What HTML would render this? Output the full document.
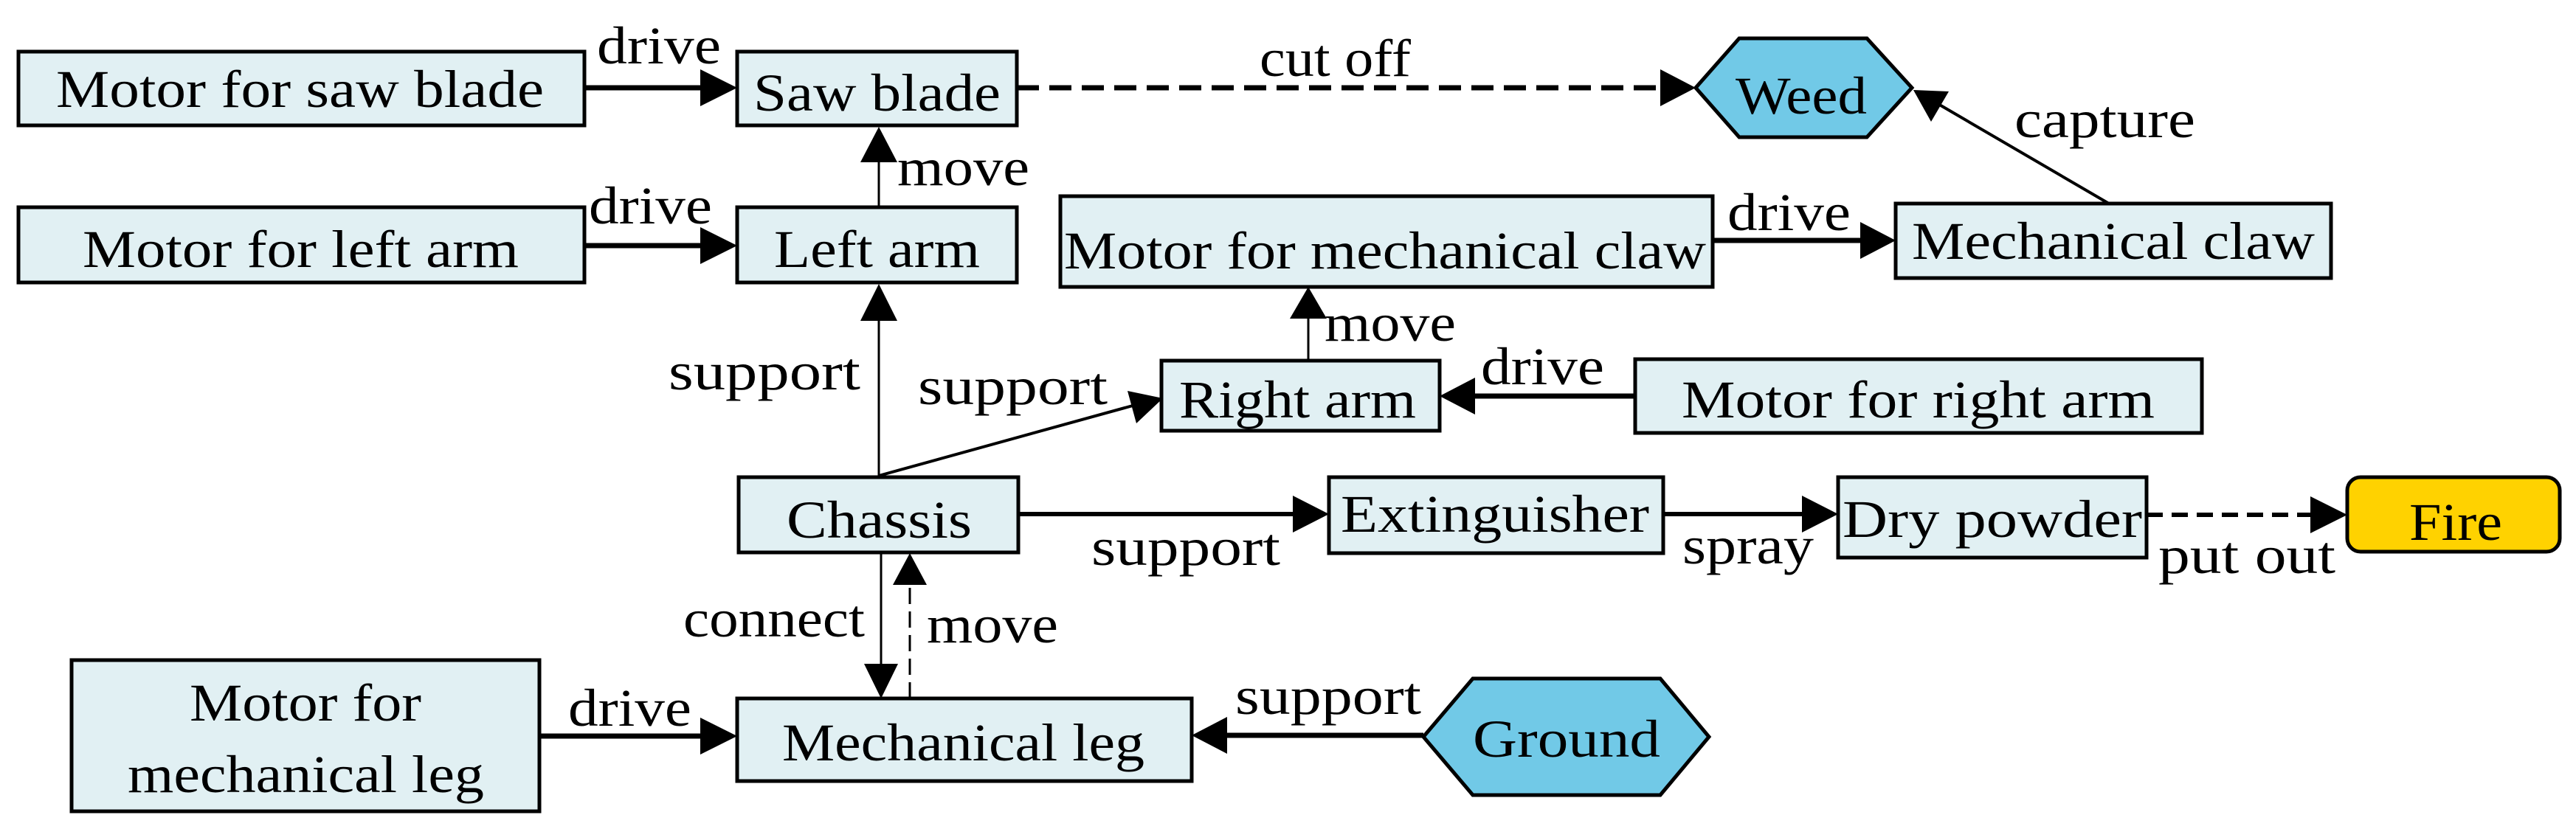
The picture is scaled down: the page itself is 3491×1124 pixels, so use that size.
<!DOCTYPE html>
<html><head><meta charset="utf-8"><style>
html,body{margin:0;padding:0;background:#fff;}
svg{display:block;}
text{font-family:"Liberation Serif",serif;font-size:72px;fill:#000;}
</style></head><body>
<svg width="3491" height="1124" viewBox="0 0 3491 1124" xmlns="http://www.w3.org/2000/svg">
<g stroke="#000" stroke-width="5" fill="#e1f0f3">
<rect x="25" y="70" width="767" height="100"/>
<rect x="999" y="70" width="379" height="100"/>
<rect x="25" y="281" width="767" height="102"/>
<rect x="999" y="281" width="379" height="102"/>
<rect x="1437" y="266" width="884" height="123"/>
<rect x="2569" y="276" width="590" height="101"/>
<rect x="1574" y="489" width="377" height="95"/>
<rect x="2216" y="487" width="768" height="100"/>
<rect x="1001" y="647" width="379" height="102"/>
<rect x="1801" y="647" width="453" height="103"/>
<rect x="2491" y="647" width="418" height="109"/>
<rect x="999" y="947" width="616" height="112"/>
<rect x="97" y="895" width="634" height="205"/>
</g>
<rect x="3181" y="647" width="288" height="101" rx="18" fill="#ffd200" stroke="#000" stroke-width="5"/>
<polygon points="2357,52 2530,52 2591,119 2530,186 2357,186 2298,119" fill="#71c9e7" stroke="#000" stroke-width="5"/>
<polygon points="1996,920 2250,920 2316,999 2250,1078 1996,1078 1929,999" fill="#71c9e7" stroke="#000" stroke-width="5"/>

<g stroke="#000" fill="none">
<line x1="792" y1="119" x2="955" y2="119" stroke-width="7"/>
<line x1="1378" y1="119" x2="2255" y2="119" stroke-width="7" stroke-dasharray="30,14"/>
<line x1="1191" y1="281" x2="1191" y2="215" stroke-width="3"/>
<line x1="792" y1="333" x2="955" y2="333" stroke-width="7"/>
<line x1="1191" y1="647" x2="1191" y2="430" stroke-width="3"/>
<line x1="1191" y1="645" x2="1535" y2="550" stroke-width="4"/>
<line x1="1773" y1="489" x2="1773" y2="430" stroke-width="3"/>
<line x1="2321" y1="326" x2="2525" y2="326" stroke-width="7"/>
<line x1="2858" y1="276" x2="2625" y2="140" stroke-width="4"/>
<line x1="2216" y1="537" x2="1995" y2="537" stroke-width="7"/>
<line x1="1380" y1="697" x2="1757" y2="697" stroke-width="6"/>
<line x1="2254" y1="697" x2="2447" y2="697" stroke-width="6"/>
<line x1="2909" y1="698" x2="3135" y2="698" stroke-width="6" stroke-dasharray="22,12"/>
<line x1="1194" y1="749" x2="1194" y2="905" stroke-width="3"/>
<line x1="1233" y1="947" x2="1233" y2="790" stroke-width="3" stroke-dasharray="22,10"/>
<line x1="731" y1="998" x2="955" y2="998" stroke-width="7"/>
<line x1="1929" y1="997" x2="1660" y2="997" stroke-width="7"/>
</g>
<g fill="#000">
<polygon points="949,94 999,119 949,144"/>
<polygon points="2250,94 2298,119 2250,144"/>
<polygon points="1166,220 1191,172 1216,220"/>
<polygon points="949,308 999,333 949,358"/>
<polygon points="1166,435 1191,385 1216,435"/>
<polygon points="1528,530 1576,540 1540,574"/>
<polygon points="1748,432 1773,389 1798,432"/>
<polygon points="2521,301 2569,326 2521,351"/>
<polygon points="2593,122 2641,124 2617,165"/>
<polygon points="1999,512 1951,537 1999,562"/>
<polygon points="1752,672 1801,697 1752,722"/>
<polygon points="2442,672 2491,697 2442,722"/>
<polygon points="3131,673 3181,698 3131,723"/>
<polygon points="1171,900 1194,947 1217,900"/>
<polygon points="1210,793 1233,750 1256,793"/>
<polygon points="949,973 999,998 949,1023"/>
<polygon points="1663,972 1615,997 1663,1022"/>
</g>

<g>
<text x="76" y="145" textLength="661" lengthAdjust="spacingAndGlyphs">Motor for saw blade</text>
<text x="1021" y="150" textLength="335" lengthAdjust="spacingAndGlyphs">Saw blade</text>
<text x="809" y="86" textLength="168" lengthAdjust="spacingAndGlyphs">drive</text>
<text x="1707" y="103" textLength="205" lengthAdjust="spacingAndGlyphs">cut off</text>
<text x="2352" y="154" textLength="178" lengthAdjust="spacingAndGlyphs">Weed</text>
<text x="2730" y="186" textLength="245" lengthAdjust="spacingAndGlyphs">capture</text>
<text x="1216" y="251" textLength="179" lengthAdjust="spacingAndGlyphs">move</text>
<text x="798" y="303" textLength="167" lengthAdjust="spacingAndGlyphs">drive</text>
<text x="112" y="362" textLength="591" lengthAdjust="spacingAndGlyphs">Motor for left arm</text>
<text x="1049" y="362" textLength="279" lengthAdjust="spacingAndGlyphs">Left arm</text>
<text x="1442" y="364" textLength="870" lengthAdjust="spacingAndGlyphs">Motor for mechanical claw</text>
<text x="2341" y="312" textLength="167" lengthAdjust="spacingAndGlyphs">drive</text>
<text x="2591" y="351" textLength="546" lengthAdjust="spacingAndGlyphs">Mechanical claw</text>
<text x="1795" y="462" textLength="178" lengthAdjust="spacingAndGlyphs">move</text>
<text x="2007" y="521" textLength="167" lengthAdjust="spacingAndGlyphs">drive</text>
<text x="2279" y="566" textLength="641" lengthAdjust="spacingAndGlyphs">Motor for right arm</text>
<text x="1598" y="566" textLength="321" lengthAdjust="spacingAndGlyphs">Right arm</text>
<text x="906" y="528" textLength="260" lengthAdjust="spacingAndGlyphs">support</text>
<text x="1244" y="548" textLength="257" lengthAdjust="spacingAndGlyphs">support</text>
<text x="1066" y="729" textLength="251" lengthAdjust="spacingAndGlyphs">Chassis</text>
<text x="1479" y="766" textLength="256" lengthAdjust="spacingAndGlyphs">support</text>
<text x="1817" y="721" textLength="418" lengthAdjust="spacingAndGlyphs">Extinguisher</text>
<text x="2280" y="764" textLength="178" lengthAdjust="spacingAndGlyphs">spray</text>
<text x="2497" y="728" textLength="406" lengthAdjust="spacingAndGlyphs">Dry powder</text>
<text x="2925" y="777" textLength="240" lengthAdjust="spacingAndGlyphs">put out</text>
<text x="3265" y="732" textLength="126" lengthAdjust="spacingAndGlyphs">Fire</text>
<text x="926" y="863" textLength="246" lengthAdjust="spacingAndGlyphs">connect</text>
<text x="1256" y="871" textLength="178" lengthAdjust="spacingAndGlyphs">move</text>
<text x="257" y="977" textLength="314" lengthAdjust="spacingAndGlyphs">Motor for</text>
<text x="173" y="1074" textLength="483" lengthAdjust="spacingAndGlyphs">mechanical leg</text>
<text x="770" y="984" textLength="167" lengthAdjust="spacingAndGlyphs">drive</text>
<text x="1060" y="1031" textLength="491" lengthAdjust="spacingAndGlyphs">Mechanical leg</text>
<text x="1674" y="968" textLength="252" lengthAdjust="spacingAndGlyphs">support</text>
<text x="1996" y="1026" textLength="254" lengthAdjust="spacingAndGlyphs">Ground</text>
</g>
</svg>
</body></html>
